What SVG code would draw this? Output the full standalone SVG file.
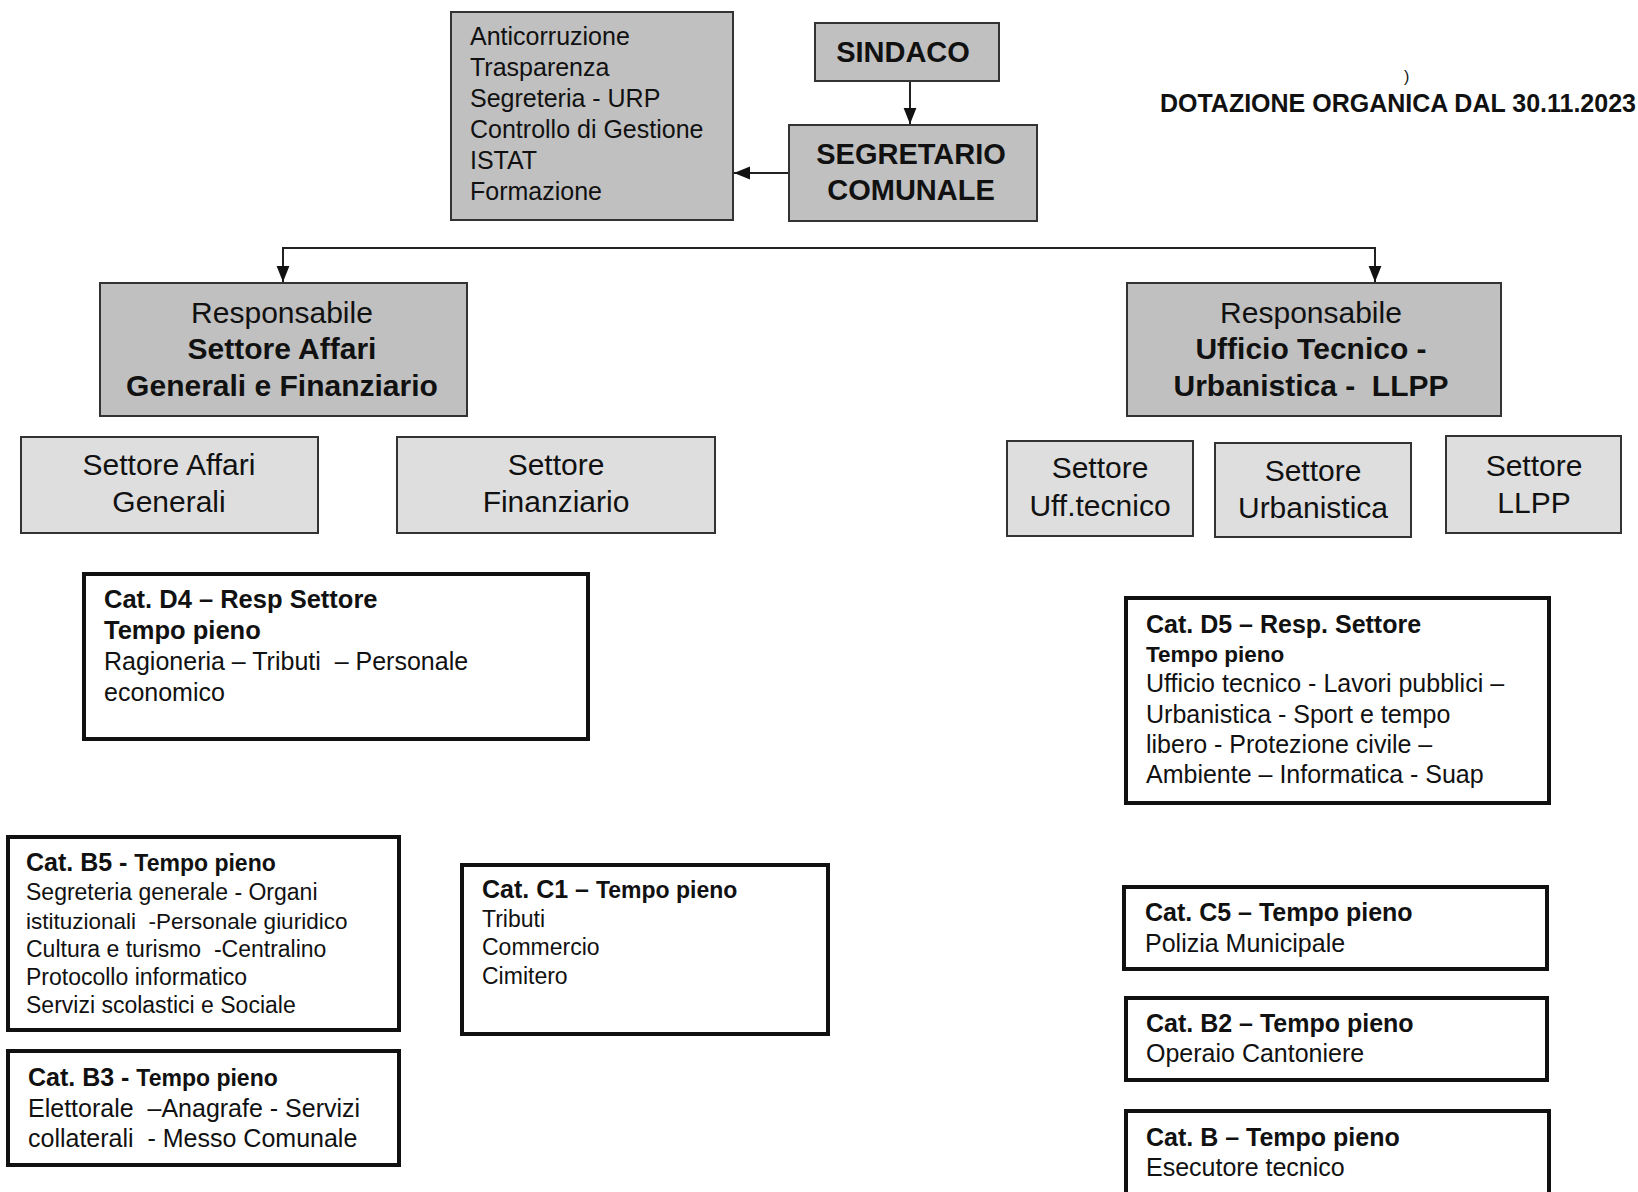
<svg xmlns="http://www.w3.org/2000/svg" width="1638" height="1192" viewBox="0 0 1638 1192">
<style>
text{font-family:"Liberation Sans",Arial,sans-serif;fill:#111}
.dk{fill:#c0c0c0;stroke:#333;stroke-width:2}
.lt{fill:#dedede;stroke:#333;stroke-width:2}
.cat{fill:#fff;stroke:#111;stroke-width:4}
.b{font-weight:bold}
.c{text-anchor:middle}
.s25{font-size:25px}
.s30{font-size:30px}
.s23{font-size:23px}
.con{fill:none;stroke:#222;stroke-width:2}
</style>
<defs>
<marker id="ah" viewBox="0 0 10 10" refX="10" refY="5" markerWidth="16" markerHeight="16" markerUnits="userSpaceOnUse" orient="auto">
<path d="M0,1 L10,5 L0,9 z" fill="#111"/>
</marker>
</defs>
<rect width="1638" height="1192" fill="#fff"/>

<g id="connectors">
<line class="con" x1="910" y1="81" x2="910" y2="124" marker-end="url(#ah)"/>
<line class="con" x1="789" y1="173" x2="734" y2="173" marker-end="url(#ah)"/>
<line class="con" x1="282" y1="248" x2="1376" y2="248"/>
<line class="con" x1="283" y1="248" x2="283" y2="282" marker-end="url(#ah)"/>
<line class="con" x1="1375" y1="248" x2="1375" y2="282" marker-end="url(#ah)"/>
</g>

<g id="funzioni">
<rect class="dk" x="451" y="12" width="282" height="208"/>
<text class="s25" x="470" y="45">Anticorruzione</text>
<text class="s25" x="470" y="76">Trasparenza</text>
<text class="s25" x="470" y="107">Segreteria - URP</text>
<text class="s25" x="470" y="138">Controllo di Gestione</text>
<text class="s25" x="470" y="169">ISTAT</text>
<text class="s25" x="470" y="200">Formazione</text>
</g>

<g id="sindaco">
<rect class="dk" x="815" y="23" width="184" height="58"/>
<text class="b c" style="font-size:29px" x="903" y="62">SINDACO</text>
</g>

<g id="segretario">
<rect class="dk" x="789" y="125" width="248" height="96"/>
<text class="b c" style="font-size:29px" x="911" y="164">SEGRETARIO</text>
<text class="b c" style="font-size:29px" x="911" y="200">COMUNALE</text>
</g>

<g id="titolo">
<text x="1404" y="82" style="font-size:16px">)</text>
<text class="b" x="1636" y="112" style="font-size:25px;text-anchor:end">DOTAZIONE ORGANICA DAL 30.11.2023</text>
</g>

<g id="resp-ag">
<rect class="dk" x="100" y="283" width="367" height="133"/>
<text class="c s30" x="282" y="323">Responsabile</text>
<text class="c s30 b" x="282" y="359">Settore Affari</text>
<text class="c s30 b" x="282" y="396">Generali e Finanziario</text>
</g>

<g id="resp-ut">
<rect class="dk" x="1127" y="283" width="374" height="133"/>
<text class="c s30" x="1311" y="323">Responsabile</text>
<text class="c s30 b" x="1311" y="359">Ufficio Tecnico -</text>
<text class="c s30 b" x="1311" y="396" xml:space="preserve">Urbanistica -  LLPP</text>
</g>

<g id="settore-ag">
<rect class="lt" x="21" y="437" width="297" height="96"/>
<text class="c s30" x="169" y="475">Settore Affari</text>
<text class="c s30" x="169" y="512">Generali</text>
</g>

<g id="settore-fin">
<rect class="lt" x="397" y="437" width="318" height="96"/>
<text class="c s30" x="556" y="475">Settore</text>
<text class="c s30" x="556" y="512">Finanziario</text>
</g>

<g id="settore-ufftec">
<rect class="lt" x="1007" y="441" width="186" height="95"/>
<text class="c s30" x="1100" y="478">Settore</text>
<text class="c s30" x="1100" y="516">Uff.tecnico</text>
</g>

<g id="settore-urb">
<rect class="lt" x="1215" y="443" width="196" height="94"/>
<text class="c s30" x="1313" y="481">Settore</text>
<text class="c s30" x="1313" y="518">Urbanistica</text>
</g>

<g id="settore-llpp">
<rect class="lt" x="1446" y="436" width="175" height="97"/>
<text class="c s30" x="1534" y="476">Settore</text>
<text class="c s30" x="1534" y="513">LLPP</text>
</g>

<g id="cat-d4">
<rect class="cat" x="84" y="574" width="504" height="165"/>
<text class="b" style="font-size:25.5px" x="104" y="608">Cat. D4 – Resp Settore</text>
<text class="b" style="font-size:25.5px" x="104" y="639">Tempo pieno</text>
<text class="s25" x="104" y="670" xml:space="preserve">Ragioneria – Tributi  – Personale</text>
<text class="s25" x="104" y="701">economico</text>
</g>

<g id="cat-d5">
<rect class="cat" x="1126" y="598" width="423" height="205"/>
<text class="b s25" x="1146" y="633">Cat. D5 – Resp. Settore</text>
<text class="b" style="font-size:22.5px" x="1146" y="662">Tempo pieno</text>
<text class="s25" x="1146" y="692">Ufficio tecnico - Lavori pubblici –</text>
<text class="s25" x="1146" y="723">Urbanistica - Sport e tempo</text>
<text class="s25" x="1146" y="753">libero - Protezione civile –</text>
<text class="s25" x="1146" y="783">Ambiente – Informatica - Suap</text>
</g>

<g id="cat-b5">
<rect class="cat" x="8" y="837" width="391" height="193"/>
<text x="26" y="871"><tspan class="b" style="font-size:25px">Cat. B5 - </tspan><tspan class="b" style="font-size:23px">Tempo pieno</tspan></text>
<text class="s23" x="26" y="900">Segreteria generale - Organi</text>
<text style="font-size:22.5px" x="26" y="929" xml:space="preserve">istituzionali  -Personale giuridico</text>
<text class="s23" x="26" y="957" xml:space="preserve">Cultura e turismo  -Centralino</text>
<text class="s23" x="26" y="985">Protocollo informatico</text>
<text class="s23" x="26" y="1013">Servizi scolastici e Sociale</text>
</g>

<g id="cat-c1">
<rect class="cat" x="462" y="865" width="366" height="169"/>
<text x="482" y="898"><tspan class="b" style="font-size:25px">Cat. C1 – </tspan><tspan class="b" style="font-size:23px">Tempo pieno</tspan></text>
<text class="s23" x="482" y="927">Tributi</text>
<text class="s23" x="482" y="955">Commercio</text>
<text class="s23" x="482" y="984">Cimitero</text>
</g>

<g id="cat-b3">
<rect class="cat" x="8" y="1051" width="391" height="114"/>
<text x="28" y="1086"><tspan class="b" style="font-size:25px">Cat. B3 - </tspan><tspan class="b" style="font-size:23px">Tempo pieno</tspan></text>
<text class="s25" x="28" y="1117" xml:space="preserve">Elettorale  –Anagrafe - Servizi</text>
<text class="s25" x="28" y="1147" xml:space="preserve">collaterali  - Messo Comunale</text>
</g>

<g id="cat-c5">
<rect class="cat" x="1124" y="887" width="423" height="82"/>
<text class="b s25" x="1145" y="921">Cat. C5 – Tempo pieno</text>
<text class="s25" x="1145" y="952">Polizia Municipale</text>
</g>

<g id="cat-b2">
<rect class="cat" x="1126" y="998" width="421" height="82"/>
<text class="b s25" x="1146" y="1032">Cat. B2 – Tempo pieno</text>
<text class="s25" x="1146" y="1062">Operaio Cantoniere</text>
</g>

<g id="cat-b">
<rect class="cat" x="1126" y="1111" width="423" height="95"/>
<text class="b s25" x="1146" y="1146">Cat. B – Tempo pieno</text>
<text class="s25" x="1146" y="1176">Esecutore tecnico</text>
</g>
</svg>
